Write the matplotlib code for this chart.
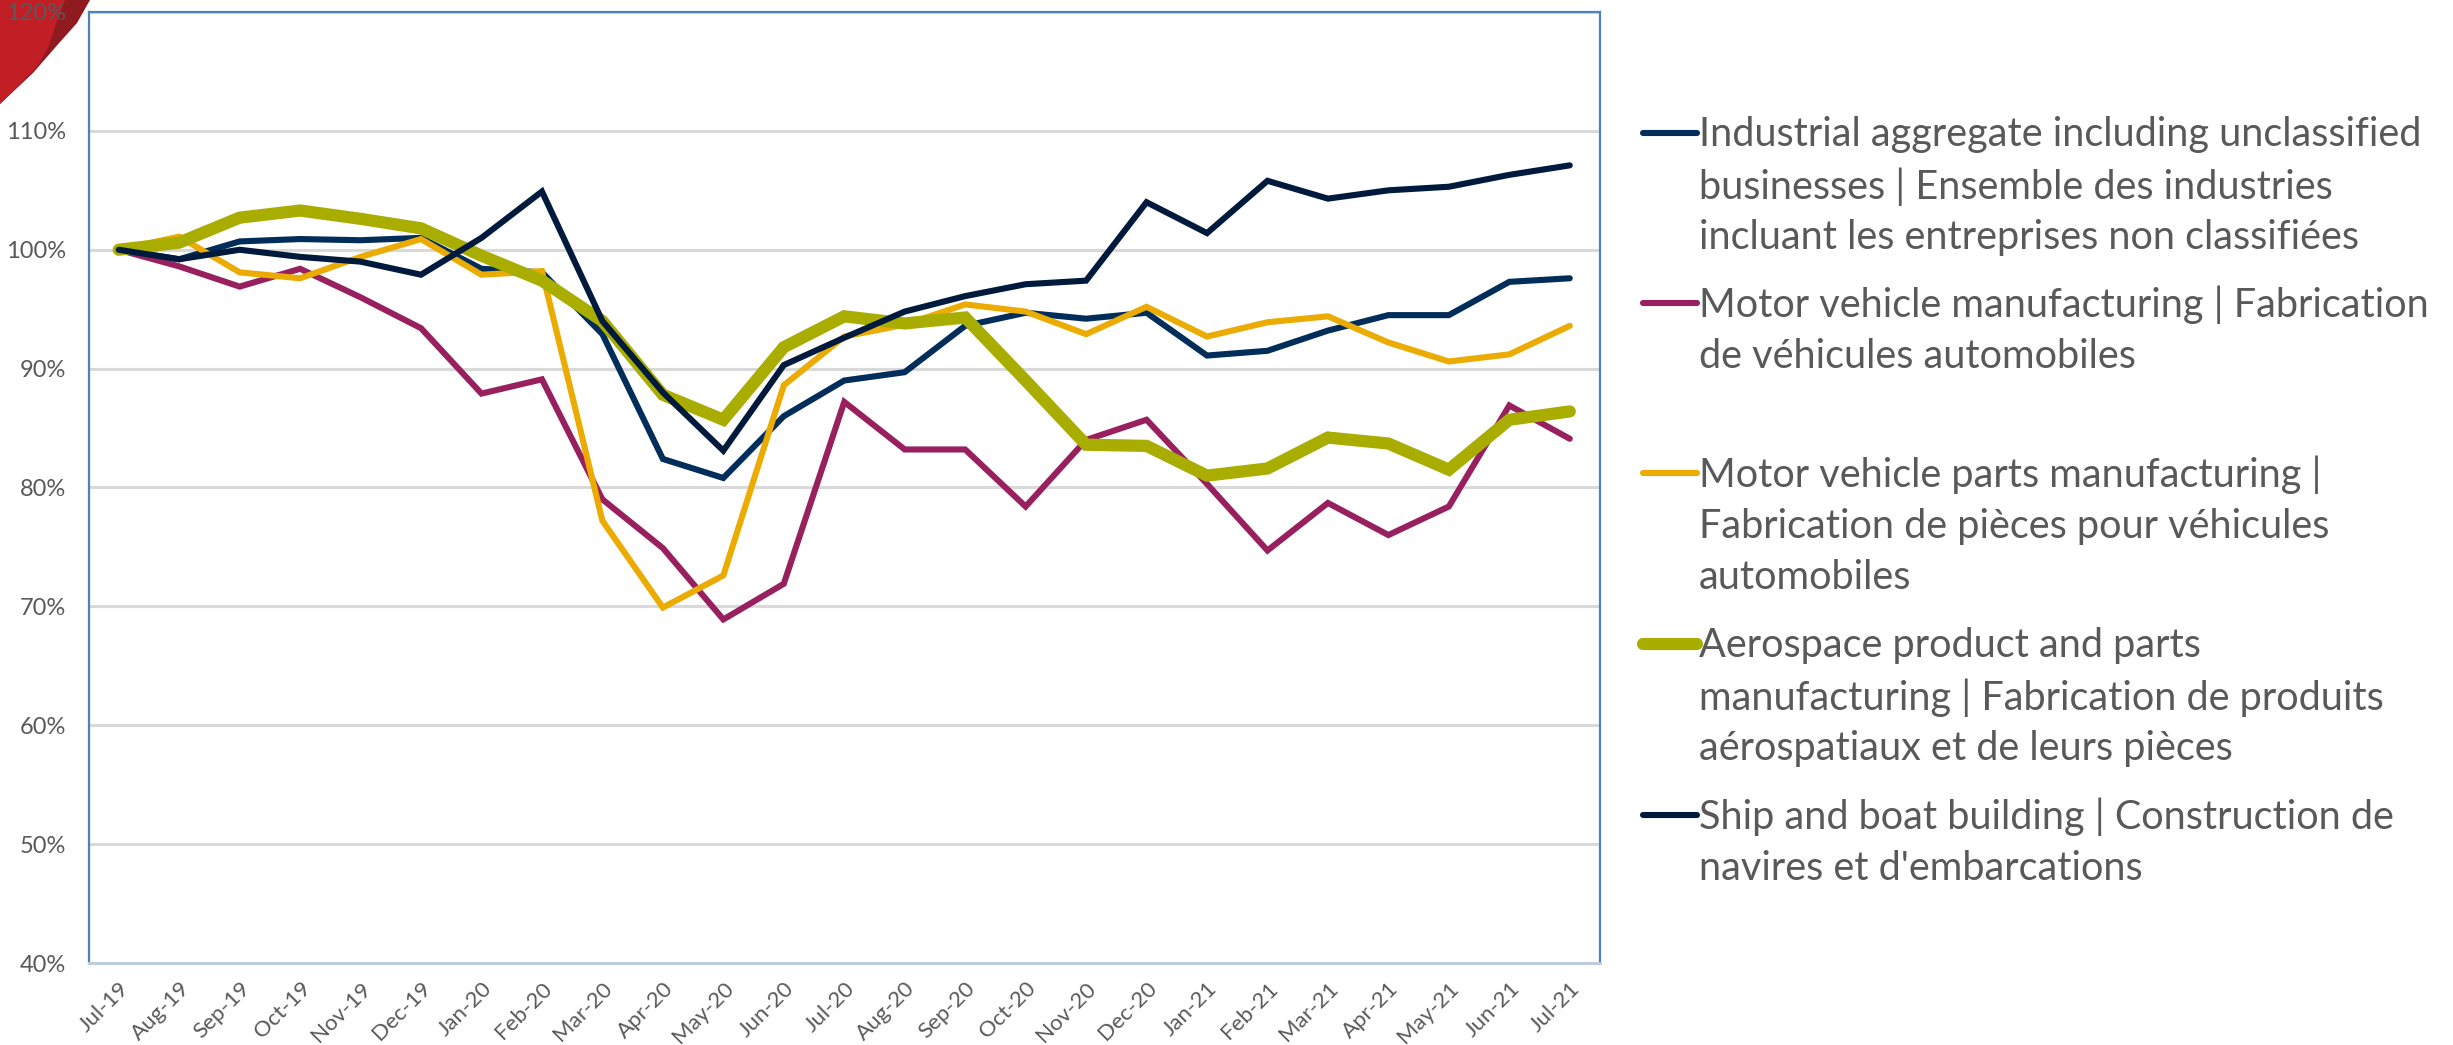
import matplotlib
matplotlib.use("Agg")
import matplotlib.pyplot as plt
from matplotlib.lines import Line2D
from matplotlib.patches import PathPatch
from matplotlib.path import Path
from matplotlib.ticker import FuncFormatter, MultipleLocator

months = ["Jul-19","Aug-19","Sep-19","Oct-19","Nov-19","Dec-19","Jan-20","Feb-20","Mar-20","Apr-20","May-20","Jun-20",
          "Jul-20","Aug-20","Sep-20","Oct-20","Nov-20","Dec-20","Jan-21","Feb-21","Mar-21","Apr-21","May-21","Jun-21","Jul-21"]
aggregate = [100,99.2,100.7,100.9,100.8,101,98.4,98.1,92.9,82.4,80.8,86,89,89.7,93.6,94.7,94.2,94.7,91.1,91.5,93.2,94.5,94.5,97.3,97.6]
motor = [100,98.6,96.9,98.4,96,93.4,87.9,89.1,79,74.9,68.9,71.9,87.2,83.2,83.2,78.4,84,85.7,80.3,74.7,78.7,76,78.4,86.9,84.1]
parts = [100,101.1,98.1,97.6,99.4,100.9,97.9,98.2,77.2,69.9,72.6,88.6,92.7,93.7,95.4,94.8,92.9,95.2,92.7,93.9,94.4,92.2,90.6,91.2,93.6]
aero = [100,100.6,102.7,103.3,102.6,101.8,99.5,97.4,94,87.8,85.7,91.8,94.4,93.8,94.3,89,83.6,83.5,81,81.6,84.2,83.7,81.5,85.7,86.4]
ship = [100,99.2,100,99.4,99,97.9,101,104.9,94,88,83.1,90.3,92.6,94.8,96.1,97.1,97.4,104,101.4,105.8,104.3,105,105.3,106.3,107.1]

labels = ["Industrial aggregate including unclassified\nbusinesses | Ensemble des industries\nincluant les entreprises non classifiées",
          "Motor vehicle manufacturing | Fabrication\nde véhicules automobiles",
          "Motor vehicle parts manufacturing |\nFabrication de pièces pour véhicules\nautomobiles",
          "Aerospace product and parts\nmanufacturing | Fabrication de produits\naérospatiaux et de leurs pièces",
          "Ship and boat building | Construction de\nnavires et d'embarcations"]
series = [aggregate, motor, parts, aero, ship]
colors = ["#002D5A", "#98205F", "#EBAB00", "#A8AD00", "#001A3D"]
widths = [4.4, 4.4, 4.4, 8.8, 4.4]

W, H = 2453, 1045
plt.rcParams["font.family"] = ["Lato", "DejaVu Sans"]
fig = plt.figure(figsize=(W/100, H/100), dpi=100)
ax = fig.add_axes([88.5/W, 1-963/H, (1600-88.5)/W, (963-12)/H])
ax.set_zorder(2)
ax.patch.set_alpha(0)

for s, c, w, in zip(series, colors, widths):
    ax.plot(range(len(months)), s, color=c, lw=w, solid_joinstyle="miter", solid_capstyle="round")

ax.set_xlim(-0.5, len(months)-0.5)
ax.set_ylim(40, 120)
ax.yaxis.set_major_locator(MultipleLocator(10))
ax.yaxis.set_major_formatter(FuncFormatter(lambda v, p: f"{v:.0f}%"))
ax.grid(axis="y", color="#D9D9D9", lw=2.2)
ax.set_axisbelow(True)
ax.set_xticks(range(len(months)))
ax.set_xticklabels(months, rotation=45, ha="right", rotation_mode="anchor", fontsize=16, color="#595959")
ax.tick_params(axis="x", length=0, pad=11)
ax.tick_params(axis="y", length=0, pad=16, labelsize=17, labelcolor="#595959")
for k in ("top", "left", "right"):
    ax.spines[k].set_color("#4F81BD")
    ax.spines[k].set_linewidth(1.6)
ax.spines["bottom"].set_color("#BFCCDC")
ax.spines["bottom"].set_linewidth(2.2)

def px(x, y):
    return (x/W, 1-y/H)

# decorative ribbon in the top-left corner
dark = Path([px(0,104), px(33,73), px(60,42), px(77,23), px(90,0), px(0,0), px(0,104)],
            [Path.MOVETO, Path.LINETO, Path.LINETO, Path.LINETO, Path.LINETO, Path.LINETO, Path.CLOSEPOLY])
red = Path([px(0,104), px(37,67), px(48,48), px(55,27), px(65,0), px(0,0), px(0,104)],
           [Path.MOVETO, Path.LINETO, Path.LINETO, Path.LINETO, Path.LINETO, Path.LINETO, Path.CLOSEPOLY])
fig.add_artist(PathPatch(dark, transform=fig.transFigure, fc="#8F1A20", ec="none", zorder=0))
fig.add_artist(PathPatch(red, transform=fig.transFigure, fc="#C21E26", ec="none", zorder=0))

# manual legend
ys = [133, 303, 473, 644, 815]
for lab, c, w, y in zip(labels, colors, widths, ys):
    fig.add_artist(Line2D([1643/W, 1697/W], [1-y/H]*2, color=c, lw=w, solid_capstyle="round", transform=fig.transFigure))
    fig.text(1699/W, 1-(y-17)/H, lab, ha="left", va="top", fontsize=28.5, color="#595959", linespacing=1.455)

fig.savefig("out.png", dpi=100)
